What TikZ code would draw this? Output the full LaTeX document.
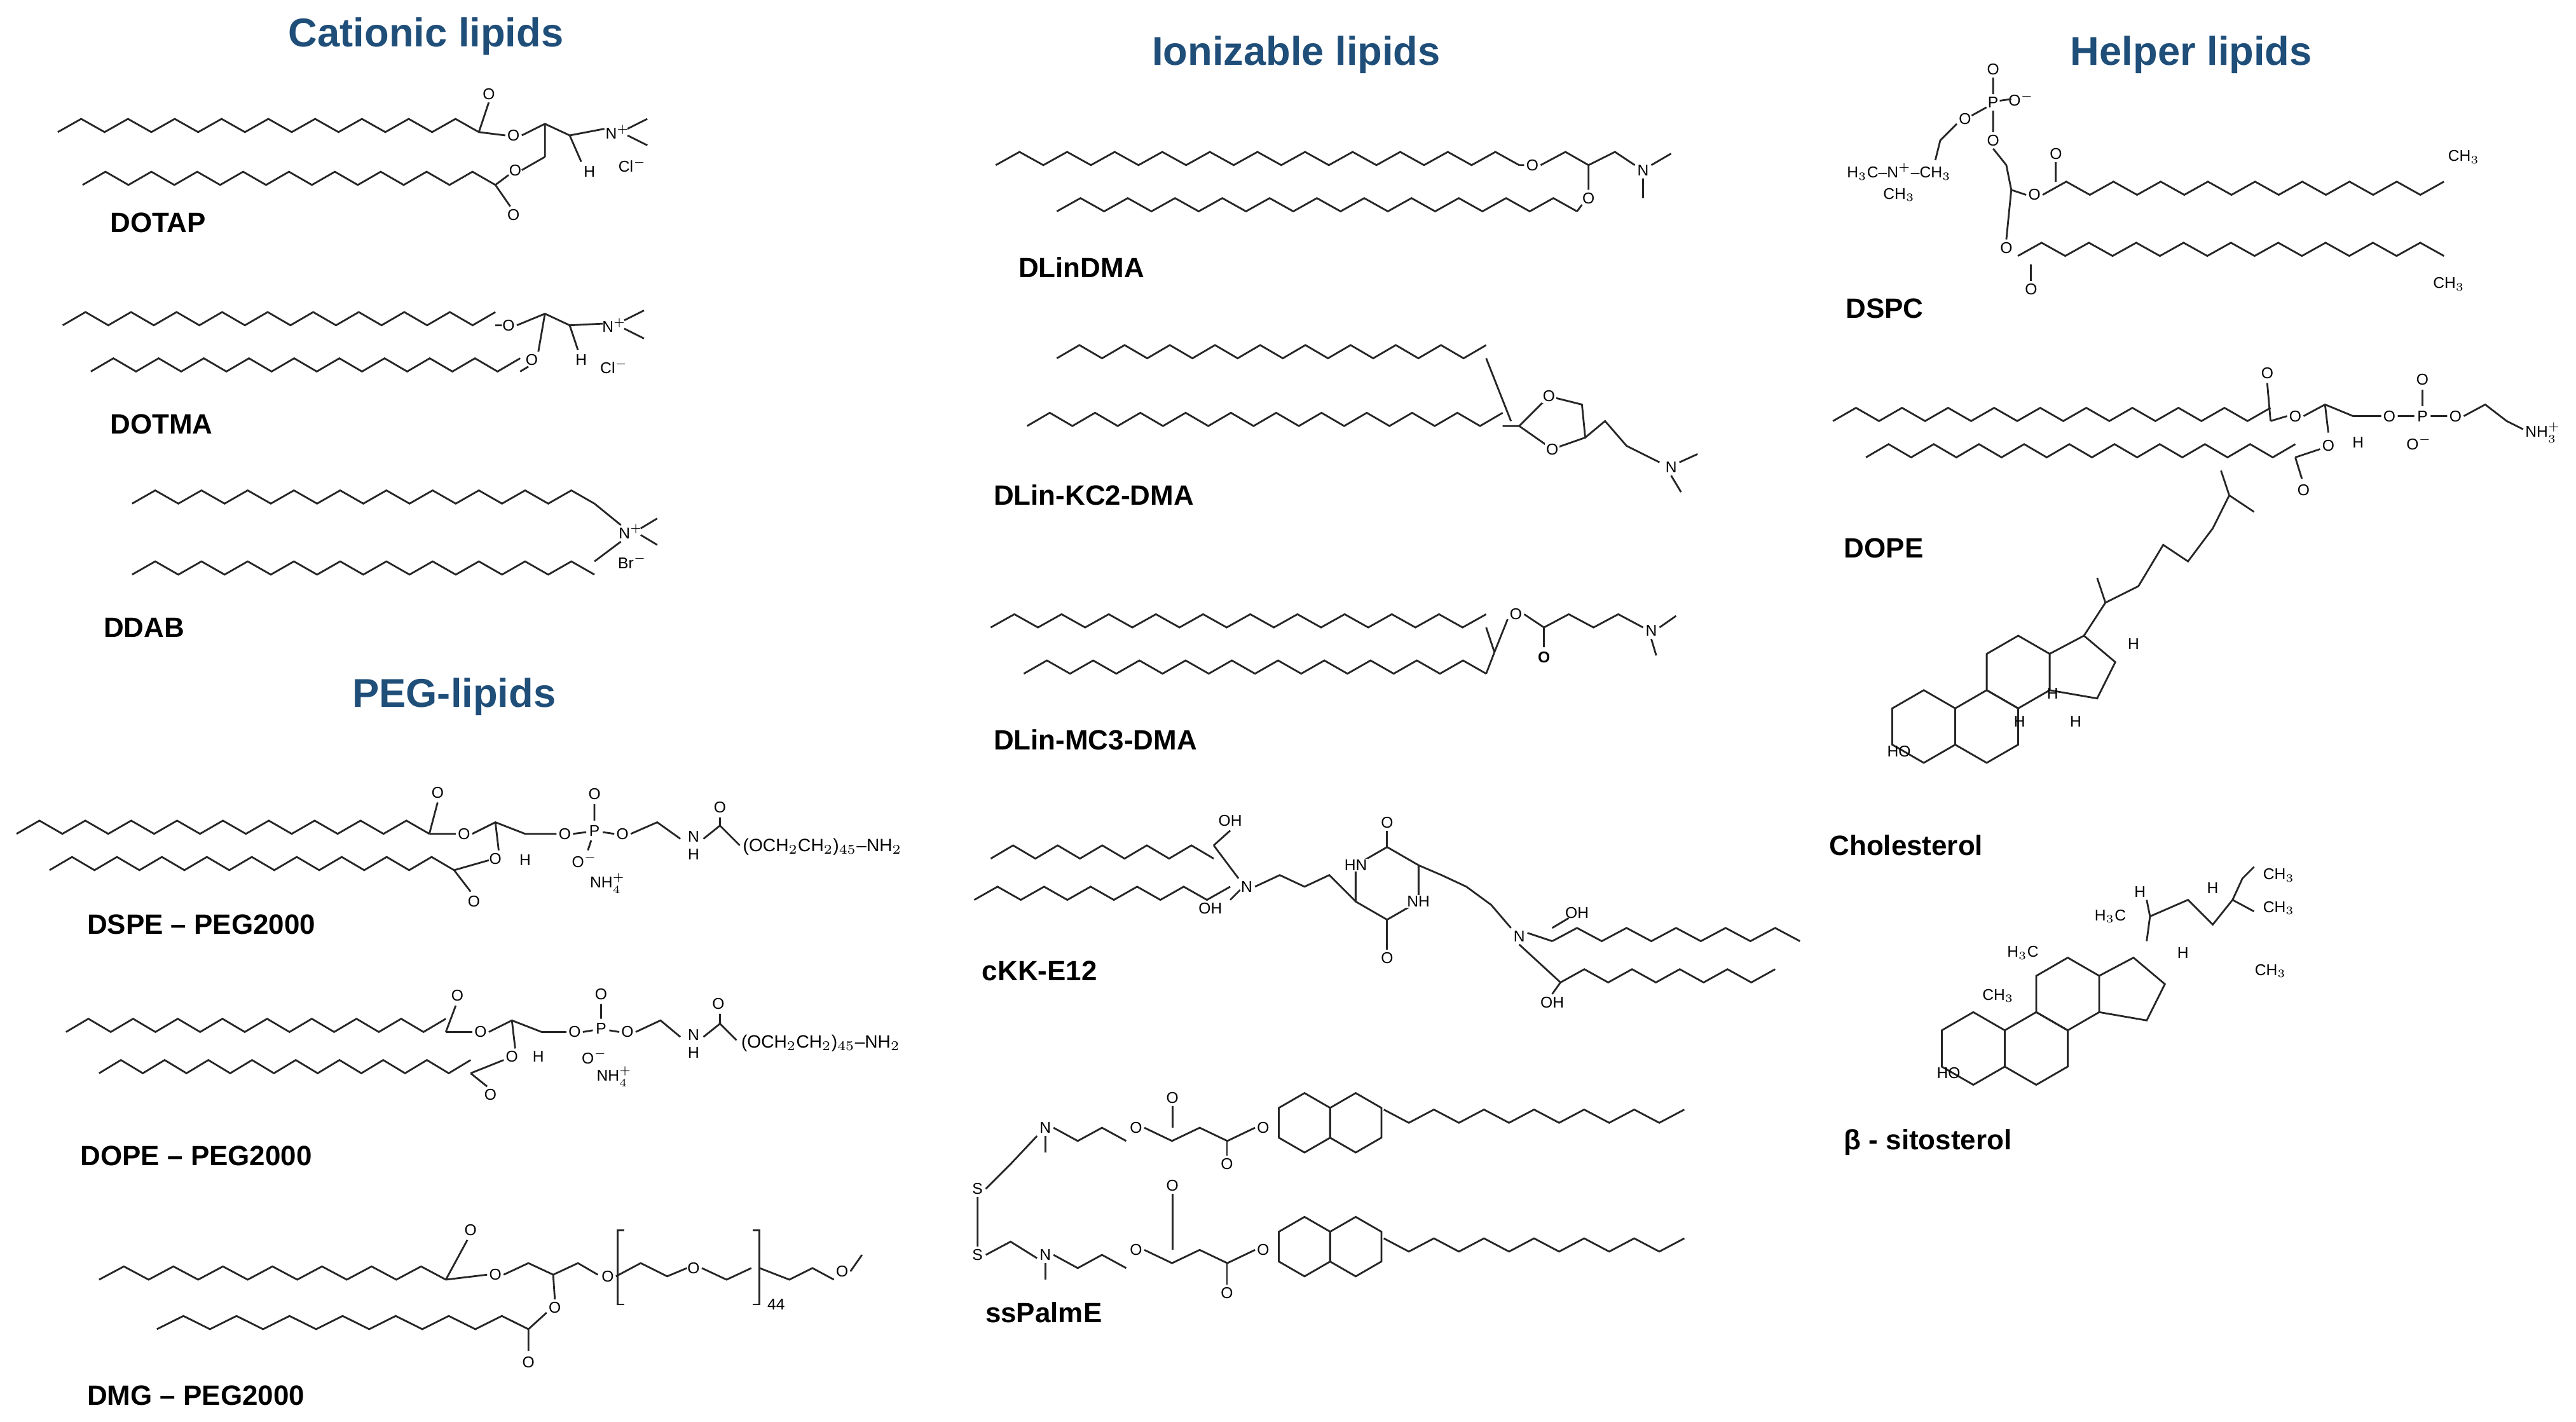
\documentclass[tikz,border=0pt]{standalone}
\usepackage{fontspec}
\setmainfont{Liberation Sans}
\definecolor{ttl}{HTML}{1F4E79}
\tikzset{bond/.style={line width=0.8pt,black!85},
 ttlnode/.style={font=\fontsize{18}{20}\selectfont\bfseries,text=ttl},
 lbl/.style={font=\fontsize{12.5}{14}\selectfont\bfseries,anchor=west},
 atm/.style={font=\fontsize{7}{8}\selectfont,inner sep=0.5pt,align=center}}
\newcommand\chain[5]{\draw[bond] (#1,#2) foreach \i in {1,...,#5}{ -- ({#1+(#3-#1)*\i/#5},{#2-#4*mod(\i,2)}) };}
\newcommand\hexr[3]{\draw[bond] (#1,#2) +(90:#3) -- +(30:#3) -- +(-30:#3) -- +(-90:#3) -- +(-150:#3) -- +(150:#3) -- cycle;}
\newcommand\pent[3]{\draw[bond] (#1,#2) +(90:#3) -- +(18:#3) -- +(-54:#3) -- +(-126:#3) -- +(162:#3) -- cycle;}
% steroid scaled: r=22
\newcommand\steroid[2]{%
 \hexr{#1}{#2}{22}\hexr{#1+38.1}{#2}{22}\hexr{#1+57.2}{#2-33}{22}%
 \draw[bond] (#1+76.2,#2-44) -- (#1+97,#2-55) -- (#1+116,#2-39) -- (#1+105,#2-17) -- (#1+76.2,#2-22);}
\begin{document}
\begin{tikzpicture}[x=0.02597cm,y=-0.02597cm]
\useasboundingbox (0,0) rectangle (1560,861);
% titles
\node[ttlnode] (t1) at (258,22) {Cationic lipids};
\node[ttlnode] (t2) at (275,422) {PEG-lipids};
\node[ttlnode] (t3) at (785,33) {Ionizable lipids};
\node[ttlnode] (t4) at (1327,33) {Helper lipids};
% DOTAP
\chain{35}{80}{290}{8}{18}
\chain{50}{112}{300}{8}{18}
\draw[bond] (290,80)--(296,62) (290,80)--(306,82) (300,112)--(308,106) (300,112)--(309,125);
\node[atm] (a1) at (296,57) {O}; \node[atm] (a2) at (311,82) {O};
\node[atm] (a3) at (312,103) {O}; \node[atm] (a4) at (311,130) {O};
\draw[bond] (316,82)--(330,75)--(345,82)--(366,78) (330,75)--(330,95) (316,103)--(330,95) (345,82)--(352,98);
\node[atm] (a5) at (357,104) {H}; \node[atm] (a6) at (374,80) {N$^+$}; \node[atm] (a7) at (383,100) {Cl$^-$};
\draw[bond] (380,78)--(392,72) (380,82)--(392,88);
\node[lbl] (l1) at (62,135) {DOTAP};
% DOTMA
\chain{38}{197}{300}{8}{19}
\chain{55}{225}{315}{8}{19}
\draw[bond] (300,197)--(304,197) (315,225)--(320,222);
\node[atm] (b1) at (308,197) {O}; \node[atm] (b2) at (322,218) {O};
\draw[bond] (313,197)--(330,190)--(345,197)--(365,196) (330,190)--(326,213) (345,197)--(350,212);
\node[atm] (b3) at (352,218) {H}; \node[atm] (b4) at (372,197) {N$^+$}; \node[atm] (b5) at (372,222) {Cl$^-$};
\draw[bond] (378,194)--(390,188) (378,199)--(390,205);
\node[lbl] (l2) at (62,257) {DOTMA};
% DDAB
\chain{80}{305}{360}{8}{20}
\chain{80}{348}{360}{8}{20}
\draw[bond] (360,305)--(376,318) (360,340)--(376,328) (388,320)--(398,314) (388,324)--(398,330);
\node[atm] (c1) at (382,322) {N$^+$}; \node[atm] (c2) at (383,340) {Br$^-$};
\node[lbl] (l3) at (58,380) {DDAB};
% DSPE-PEG2000
\chain{10}{505}{260}{8}{18}
\chain{30}{527}{275}{8}{18}
\node[atm] (d1) at (265,480) {O}; \node[atm] (d2) at (281,505) {O};
\draw[bond] (260,505)--(265,486) (260,505)--(276,505) (286,505)--(300,498)--(318,505)--(337,505) (300,498)--(302,515) (275,527)--(296,521) (275,527)--(285,540);
\node[atm] (d3) at (300,520) {O}; \node[atm] (d4) at (287,546) {O}; \node[atm] (d5) at (318,521) {H};
\node[atm] (d6) at (342,505) {O}; \node[atm] (d7) at (360,503) {P}; \node[atm] (d8) at (360,481) {O};
\node[atm] (d9) at (354,521) {O$^-$}; \node[atm] (d10) at (377,505) {O};
\draw[bond] (347,505)--(355,504) (365,504)--(372,505) (360,497)--(360,487) (358,509)--(356,515) (382,505)--(398,498)--(412,508);
\node[atm] (d11) at (420,512) {N\\H}; \node[atm] (d12) at (436,489) {O};
\draw[bond] (426,508)--(436,500) (436,495)--(436,500)--(448,512);
\node[atm,font=\fontsize{8}{9}\selectfont,anchor=west] (d13) at (449,513) {(OCH$_2$CH$_2$)$_{45}$–NH$_2$};
\node[atm] (d14) at (368,535) {NH$_4^+$};
\node[lbl] (l4) at (48,560) {DSPE – PEG2000};
% DOPE-PEG2000
\chain{40}{625}{270}{8}{17}
\chain{60}{650}{285}{8}{17}
\node[atm] (e1) at (277,603) {O}; \node[atm] (e2) at (291,625) {O};
\draw[bond] (270,625)--(276,609) (270,625)--(286,625) (296,625)--(310,618)--(328,625)--(343,625) (310,618)--(312,635) (285,650)--(305,642) (285,650)--(295,658);
\node[atm] (e3) at (310,640) {O}; \node[atm] (e4) at (297,663) {O}; \node[atm] (e5) at (326,640) {H};
\node[atm] (e6) at (348,625) {O}; \node[atm] (e7) at (364,623) {P}; \node[atm] (e8) at (364,602) {O};
\node[atm] (e9) at (360,640) {O$^-$}; \node[atm] (e10) at (380,625) {O};
\draw[bond] (353,625)--(359,624) (369,624)--(375,625) (364,617)--(364,608) (385,625)--(400,618)--(412,628);
\node[atm] (e11) at (420,632) {N\\H}; \node[atm] (e12) at (435,608) {O};
\draw[bond] (426,628)--(436,620)--(446,630) (436,614)--(436,620);
\node[atm,font=\fontsize{8}{9}\selectfont,anchor=west] (e13) at (448,632) {(OCH$_2$CH$_2$)$_{45}$–NH$_2$};
\node[atm] (e14) at (372,652) {NH$_4^+$};
\node[lbl] (l5) at (44,700) {DOPE – PEG2000};
% DMG-PEG2000
\chain{60}{775}{270}{8}{14}
\chain{95}{805}{320}{8}{14}
\node[atm] (f1) at (285,745) {O}; \node[atm] (f2) at (300,772) {O};
\draw[bond] (270,775)--(283,751) (270,775)--(295,772) (305,772)--(320,765)--(335,772)--(350,765)--(362,772) (335,772)--(336,787);
\node[atm] (f3) at (336,792) {O}; \node[atm] (f4) at (320,825) {O}; \node[atm] (f5) at (368,773) {O};
\draw[bond] (320,805)--(331,795) (320,805)--(320,818) (373,773)--(388,765)--(404,773)--(416,768) (425,768)--(440,775)--(455,768);
\node[atm] (f6) at (420,768) {O};
\draw[bond] (378,745)--(374,745)--(374,790)--(378,790) (456,745)--(460,745)--(460,790)--(456,790);
\node[atm] (f7) at (470,790) {44};
\draw[bond] (460,768)--(478,775)--(492,768)--(505,775);
\node[atm] (f8) at (510,770) {O}; \draw[bond] (515,770)--(522,760);
\node[lbl] (l6) at (48,845) {DMG – PEG2000};
% DLinDMA
\chain{603}{100}{920}{8}{22}
\chain{640}{128}{955}{8}{22}
\node[atm] (g1) at (928,100) {O}; \node[atm] (g2) at (962,120) {O};
\draw[bond] (920,100)--(923,100) (955,128)--(958,124) (933,100)--(948,92)--(962,100)--(978,92)--(990,100) (962,100)--(962,115);
\node[atm] (g3) at (995,103) {N}; \draw[bond] (1000,100)--(1012,93) (995,108)--(995,120);
\node[lbl] (l7) at (612,162) {DLinDMA};
% DLin-KC2-DMA
\chain{640}{217}{900}{8}{19}
\chain{622}{258}{910}{8}{21}
\draw[bond] (900,217)--(915,255) (910,258)--(920,258);
\draw[bond] (920,258) -- (938,240) -- (958,245) -- (960,265) -- (940,272) -- cycle;
\node[atm,fill=white] (h1) at (940,272) {O}; \node[atm,fill=white] (h2) at (938,240) {O};
\draw[bond] (960,265)--(972,255)--(985,270)--(1005,280);
\node[atm] (h3) at (1012,283) {N}; \draw[bond] (1017,280)--(1028,275) (1012,288)--(1018,298);
\node[lbl] (l8) at (597,300) {DLin-KC2-DMA};
% DLin-MC3-DMA
\chain{600}{380}{900}{8}{21}
\chain{620}{408}{900}{8}{20}
\draw[bond] (900,380)--(905,395)--(900,408) (905,395)--(913,375);
\node[atm] (i1) at (918,372) {O}; \node[atm] (i2) at (935,398) {\bfseries O};
\draw[bond] (923,372)--(935,380)--(935,392) (935,380)--(950,372)--(965,380)--(980,372)--(995,380);
\node[atm] (i3) at (1000,382) {N}; \draw[bond] (1005,380)--(1015,373) (1000,387)--(1003,397);
\node[lbl] (l9) at (597,448) {DLin-MC3-DMA};
% cKK-E12
\chain{600}{520}{735}{8}{10}
\chain{590}{545}{745}{8}{11}
\node[atm] (j1) at (745,497) {OH}; \node[atm] (j2) at (733,550) {OH};
\node[atm] (j3) at (755,537) {N};
\draw[bond] (735,512)--(745,503) (735,512)--(750,532) (745,545)--(751,539) (760,537)--(775,530)--(790,537)--(805,530)--(821,546);
\hexr{840}{535}{22}
\node[atm,fill=white] (j5) at (859,546) {NH}; \node[atm,fill=white] (j6) at (821,524) {HN};
\draw[bond] (840,513)--(840,503) (840,557)--(840,575);
\node[atm] (j4) at (840,498) {O}; \node[atm] (j7) at (840,580) {O};
\draw[bond] (859,524)--(873,530)--(888,537)--(903,548)--(915,562);
\node[atm] (j8) at (920,567) {N};
\chain{940}{570}{1090}{8}{10}
\chain{945}{595}{1075}{8}{9}
\draw[bond] (925,565)--(940,570) (920,572)--(945,595) (940,562)--(950,556) (945,595)--(940,602);
\node[atm] (j9) at (955,553) {OH}; \node[atm] (j10) at (940,607) {OH};
\node[lbl] (l10) at (590,588) {cKK-E12};
% ssPalmE
\node[atm] (k1) at (592,720) {S}; \node[atm] (k2) at (592,760) {S};
\draw[bond] (592,725)--(592,755) (597,720)--(612,705)--(628,688) (597,760)--(612,752)--(628,762);
\node[atm] (k3) at (633,683) {N}; \node[atm] (k4) at (633,760) {N};
\draw[bond] (633,688)--(633,698) (633,765)--(633,775);
\chain{638}{683}{682}{-8}{3}
\chain{638}{760}{682}{-8}{3}
\node[atm] (k5) at (688,683) {O}; \node[atm] (k6) at (688,757) {O};
\chain{693}{683}{760}{-8}{4} \chain{693}{757}{760}{-8}{4}
\node[atm] (k7) at (710,665) {O}; \node[atm] (k8) at (710,718) {O};
\draw[bond] (710,683)--(710,670) (710,757)--(710,723) (743,691)--(743,700) (743,765)--(743,778);
\node[atm] (k9) at (765,683) {O}; \node[atm] (k10) at (765,757) {O};
\node[atm] (k11) at (743,705) {O}; \node[atm] (k12) at (743,783) {O};
\hexr{790}{680}{18}\hexr{821}{680}{18}
\hexr{790}{755}{18}\hexr{821}{755}{18}
\chain{838}{672}{1020}{-8}{12}
\chain{838}{750}{1020}{-8}{12}
\node[lbl] (l11) at (592,795) {ssPalmE};
% DSPC
\node[atm] (m1) at (1207,62) {P}; \node[atm] (m2) at (1207,42) {O}; \node[atm] (m3) at (1224,60) {O$^-$};
\node[atm] (m4) at (1190,72) {O}; \node[atm] (m5) at (1207,85) {O};
\draw[bond] (1207,57)--(1207,47) (1211,61)--(1218,60) (1203,65)--(1194,70) (1207,67)--(1207,80);
\draw[bond] (1185,75)--(1175,85)--(1172,97) (1207,90)--(1215,100)--(1218,115)--(1215,145) (1218,115)--(1227,118);
\node[atm] (m6) at (1150,104) {H$_3$C–N$^+$–CH$_3$}; \node[atm] (m7) at (1150,118) {CH$_3$};
\node[atm] (m8) at (1232,118) {O}; \node[atm] (m9) at (1215,150) {O}; \node[atm] (m10) at (1245,93) {O};
\node[atm] (m11) at (1230,175) {O};
\draw[bond] (1245,110)--(1245,98) (1230,160)--(1230,170);
\chain{1237}{118}{1480}{8}{17}
\chain{1222}{155}{1480}{8}{18}
\node[atm] (m12) at (1492,95) {CH$_3$}; \node[atm] (m13) at (1483,172) {CH$_3$};
\node[lbl] (l12) at (1113,187) {DSPC};
% DOPE
\chain{1110}{255}{1375}{8}{19}
\chain{1130}{277}{1390}{8}{19}
\node[atm] (n1) at (1373,226) {O}; \node[atm] (n2) at (1390,252) {O};
\draw[bond] (1375,255)--(1373,232) (1375,255)--(1385,252) (1390,277)--(1405,272) (1390,277)--(1394,290);
\draw[bond] (1395,252)--(1408,245)--(1425,252)--(1442,252) (1408,245)--(1410,262) (1452,252)--(1462,252) (1472,252)--(1482,252) (1467,246)--(1467,236);
\node[atm] (n3) at (1428,268) {H}; \node[atm] (n4) at (1447,252) {O}; \node[atm] (n5) at (1467,252) {P};
\node[atm] (n6) at (1467,230) {O}; \node[atm] (n7) at (1465,268) {O$^-$}; \node[atm] (n8) at (1487,252) {O};
\draw[bond] (1492,252)--(1505,245)--(1518,255)--(1528,260);
\node[atm] (n9) at (1540,262) {NH$_3^+$}; \node[atm] (n10) at (1410,270) {O}; \node[atm] (n11) at (1395,297) {O};
\node[lbl] (l13) at (1112,332) {DOPE};
% Cholesterol
\steroid{1165}{440}
\node[atm] (o1) at (1150,455) {HO};
\draw[bond] (1262,385)--(1275,365)--(1270,350) (1275,365)--(1295,355)--(1310,330)--(1325,340)--(1340,320)--(1350,300)--(1365,310) (1350,300)--(1345,285);
\node[atm] (o2) at (1292,390) {H}; \node[atm] (o3) at (1243,420) {H}; \node[atm] (o4) at (1223,437) {H}; \node[atm] (o5) at (1257,437) {H};
\node[lbl] (l14) at (1103,512) {Cholesterol};
% beta-sitosterol
\steroid{1195}{635}
\node[atm] (p1) at (1180,650) {HO};
\draw[bond] (1300,570)--(1302,555)--(1325,545)--(1340,560)--(1352,545)--(1365,552) (1352,545)--(1358,532)--(1365,525) (1302,555)--(1300,545);
\node[atm] (p2) at (1340,538) {H}; \node[atm] (p3) at (1380,550) {CH$_3$}; \node[atm] (p4) at (1380,530) {CH$_3$};
\node[atm] (p5) at (1375,588) {CH$_3$}; \node[atm] (p6) at (1278,555) {H$_3$C}; \node[atm] (p7) at (1225,577) {H$_3$C};
\node[atm] (p8) at (1210,603) {CH$_3$}; \node[atm] (p9) at (1322,577) {H}; \node[atm] (p10) at (1296,540) {H};
\node[lbl] (l15) at (1112,692) {β - sitosterol};
\end{tikzpicture}
\end{document}
